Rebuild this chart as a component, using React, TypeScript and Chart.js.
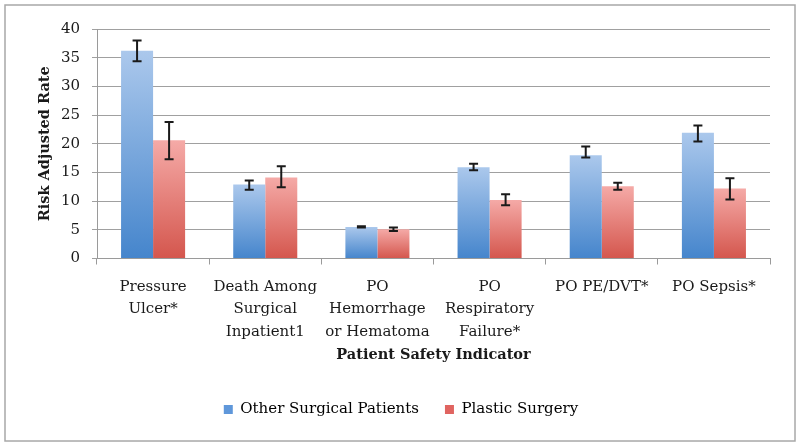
import React, { useEffect, useRef } from "react";
import { Chart, registerables } from "chart.js";

Chart.register(...registerables);

const categories: string[][] = [
  ["Pressure", "Ulcer*"],
  ["Death Among", "Surgical", "Inpatient1"],
  ["PO", "Hemorrhage", "or Hematoma"],
  ["PO", "Respiratory", "Failure*"],
  ["PO PE/DVT*"],
  ["PO Sepsis*"],
];

const seriesNames = ["Other Surgical Patients", "Plastic Surgery"];

const otherValues = [36.2, 12.9, 5.5, 15.9, 18.0, 21.9];
const otherLow = [34.4, 12.0, 5.4, 15.4, 17.6, 20.4];
const otherHigh = [38.0, 13.6, 5.6, 16.5, 19.5, 23.2];

const plasticValues = [20.6, 14.1, 5.1, 10.2, 12.6, 12.2];
const plasticLow = [17.3, 12.4, 4.8, 9.3, 12.0, 10.3];
const plasticHigh = [23.8, 16.1, 5.4, 11.2, 13.2, 14.0];

const yTicks = [0, 5, 10, 15, 20, 25, 30, 35, 40];

const FONT = "'DejaVu Serif', serif";

function barGradient(top: string, bottom: string) {
  return (ctx: any) => {
    const chart = ctx.chart;
    const y = chart.scales && chart.scales.y;
    if (!y || ctx.raw == null) return bottom;
    const py = y.getPixelForValue(ctx.raw);
    const pb = y.getPixelForValue(0);
    if (!isFinite(py) || !isFinite(pb) || py === pb) return bottom;
    const g = chart.ctx.createLinearGradient(0, py, 0, pb);
    g.addColorStop(0, top);
    g.addColorStop(1, bottom);
    return g;
  };
}

const errorBars = {
  id: "errorBars",
  afterDatasetsDraw(chart: any) {
    const ctx = chart.ctx;
    const y = chart.scales.y;
    const lows = [otherLow, plasticLow];
    const highs = [otherHigh, plasticHigh];
    ctx.save();
    ctx.strokeStyle = "#1a1a1a";
    ctx.lineWidth = 2;
    chart.data.datasets.forEach((_: any, di: number) => {
      const meta = chart.getDatasetMeta(di);
      meta.data.forEach((bar: any, i: number) => {
        const x = bar.x;
        const yl = y.getPixelForValue(lows[di][i]);
        const yh = y.getPixelForValue(highs[di][i]);
        const w = 4.5;
        ctx.beginPath();
        ctx.moveTo(x, yl);
        ctx.lineTo(x, yh);
        ctx.moveTo(x - w, yl);
        ctx.lineTo(x + w, yl);
        ctx.moveTo(x - w, yh);
        ctx.lineTo(x + w, yh);
        ctx.stroke();
      });
    });
    ctx.restore();
  },
};

const frame = {
  id: "frame",
  beforeDraw(chart: any) {
    const ctx = chart.ctx;
    ctx.save();
    ctx.fillStyle = "#ffffff";
    ctx.fillRect(0, 0, chart.width, chart.height);
    ctx.strokeStyle = "#a8a8a8";
    ctx.lineWidth = 1.5;
    ctx.strokeRect(5, 5, chart.width - 10, chart.height - 10);
    ctx.restore();
  },
};

export default function App() {
  const ref = useRef<HTMLCanvasElement | null>(null);

  useEffect(() => {
    if (!ref.current) return;
    const chart = new Chart(ref.current, {
      type: "bar",
      data: {
        labels: categories,
        datasets: [
          {
            label: seriesNames[0],
            data: otherValues,
            backgroundColor: barGradient("#abc8ec", "#4585cc"),
            borderWidth: 0,
          },
          {
            label: seriesNames[1],
            data: plasticValues,
            backgroundColor: barGradient("#f5aaa7", "#d4564d"),
            borderWidth: 0,
          },
        ],
      },
      options: {
        animation: false,
        responsive: false,
        maintainAspectRatio: false,
        layout: { padding: { top: 29, right: 30, bottom: 19, left: 32 } },
        datasets: {
          bar: { categoryPercentage: 0.571, barPercentage: 1 },
        },
        plugins: {
          tooltip: { enabled: false },
          legend: {
            position: "bottom",
            labels: {
              boxWidth: 9,
              boxHeight: 9,
              padding: 26,
              color: "#1a1a1a",
              font: { family: FONT, size: 15 },
              generateLabels: () => [
                { text: seriesNames[0], fillStyle: "#5f97da", strokeStyle: "#5f97da", lineWidth: 0, datasetIndex: 0 },
                { text: seriesNames[1], fillStyle: "#e06460", strokeStyle: "#e06460", lineWidth: 0, datasetIndex: 1 },
              ],
            },
          },
        },
        scales: {
          x: {
            grid: {
              offset: true,
              drawOnChartArea: false,
              drawTicks: true,
              tickLength: 6,
              color: "#9a9a9a",
            },
            border: { color: "#9a9a9a", width: 1 },
            ticks: {
              padding: 12,
              maxRotation: 0,
              autoSkip: false,
              color: "#1a1a1a",
              font: { family: FONT, size: 15, lineHeight: 1.47 },
            },
            title: {
              display: true,
              text: "Patient Safety Indicator",
              color: "#1a1a1a",
              font: { family: FONT, size: 14.5, weight: "bold" },
              padding: { top: 0, bottom: 12.5 },
            },
            afterFit: (s: any) => {
              s.height = 117.5;
            },
          },
          y: {
            min: 0,
            max: 40,
            afterBuildTicks: (s: any) => {
              s.ticks = yTicks.map((v) => ({ value: v }));
            },
            grid: {
              color: "#a0a0a0",
              lineWidth: 1,
              tickLength: 5,
            },
            border: { color: "#9a9a9a", width: 1 },
            ticks: {
              padding: 12,
              color: "#1a1a1a",
              font: { family: FONT, size: 15 },
            },
            title: {
              display: true,
              text: "Risk Adjusted Rate",
              color: "#1a1a1a",
              font: { family: FONT, size: 14.5, weight: "bold" },
              padding: { top: 4.5, bottom: 0 },
            },
            afterFit: (s: any) => {
              s.width = 65;
            },
          },
        },
      },
      plugins: [frame, errorBars],
    });
    return () => chart.destroy();
  }, []);

  return (
    <div style={{ position: "fixed", left: 0, top: 0, width: 800, height: 446, background: "#fff" }}>
      <canvas ref={ref} width={800} height={446} style={{ width: 800, height: 446, display: "block" }} />
    </div>
  );
}
